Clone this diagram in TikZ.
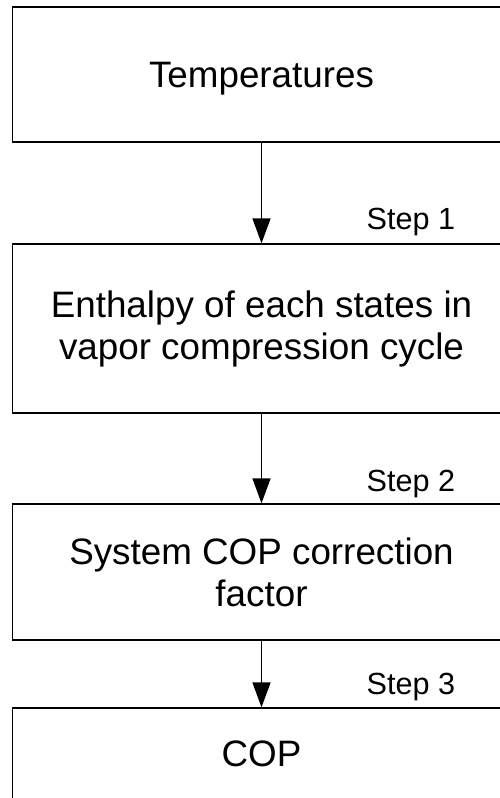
\documentclass[tikz,border=0pt]{standalone}
\usepackage{fontspec}
\setmainfont{Liberation Sans}
\usetikzlibrary{arrows.meta}
\begin{document}
\begin{tikzpicture}[x=1pt,y=-1pt,
  box/.style={draw=black, line width=1.3pt, inner sep=0pt, minimum width=498pt,
    align=center, font=\fontsize{36.8}{42}\selectfont},
  steplabel/.style={anchor=base west, inner sep=0pt, font=\fontsize{30.6}{36}\selectfont},
  arr/.style={draw=black, line width=1.3pt, -{Triangle[length=25pt,width=18pt]}}]
\useasboundingbox (0,0) rectangle (499,798);
\node[box, minimum height=135pt, text depth=0pt] (b1) at (261.5,74.5) {Temperatures};
\node[box, minimum height=169pt] (b2) at (261.5,328.5) {Enthalpy of each states in\\vapor compression cycle};
\node[box, minimum height=136pt] (b3) at (261.5,572) {System COP correction\\factor};
\node[box, minimum height=91pt] (b4) at (261.5,753.5) {COP};
\node[steplabel] (s1) at (366.5,229.5) {Step 1};
\node[steplabel] (s2) at (366.5,491) {Step 2};
\node[steplabel] (s3) at (366.5,694) {Step 3};
\draw[arr] (b1) -- (b2);
\draw[arr] (b2) -- (b3);
\draw[arr] (b3) -- (b4);
\end{tikzpicture}
\end{document}
